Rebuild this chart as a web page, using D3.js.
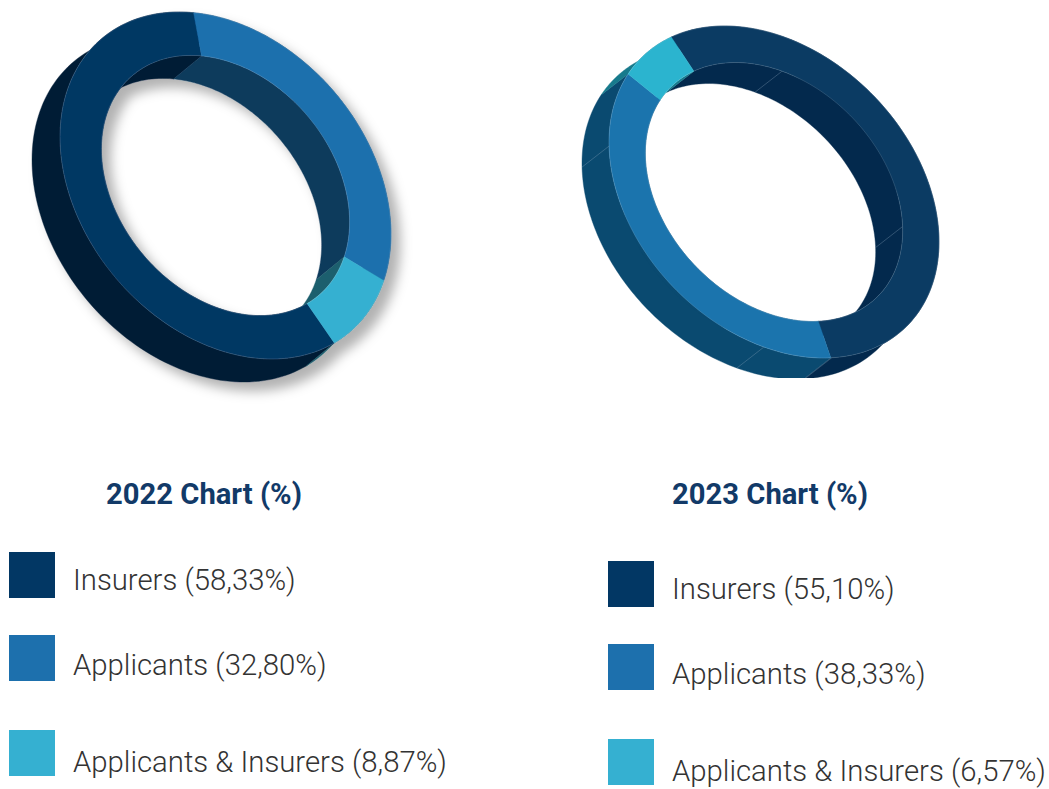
<!DOCTYPE html>
<html><head><meta charset="utf-8">
<style>html,body{margin:0;padding:0;background:#fff}svg{display:block}</style>
<script src="https://cdn.jsdelivr.net/npm/d3@7/dist/d3.min.js"></script>
</head><body><svg id="c" width="1049" height="789"></svg>
<script>
const categories = ["Insurers", "Applicants", "Applicants & Insurers"];
const values2022 = [58.33, 32.80, 8.87];
const values2023 = [55.10, 38.33, 6.57];
const labels2022 = ["58,33%", "32,80%", "8,87%"];
const labels2023 = ["55,10%", "38,33%", "6,57%"];
const legendColors = ["#023764", "#1d70ad", "#35b0d1"];

const svg = d3.select("#c");
const defs = svg.append("defs");
const shadow = defs.append("filter").attr("id","ds")
  .attr("x","-20%").attr("y","-20%").attr("width","150%").attr("height","150%");
shadow.append("feDropShadow").attr("dx",9).attr("dy",9).attr("stdDeviation",6)
  .attr("flood-color","#000").attr("flood-opacity",0.3);
defs.append("clipPath").attr("id","clip23").append("rect")
  .attr("x",540).attr("y",0).attr("width",500).attr("height",378);

const rad = d => d * Math.PI / 180;
const line = d3.line().curve(d3.curveLinear);

function ring(cfg){
  const g = svg.append("g");
  if (cfg.filter) g.attr("filter", cfg.filter);
  if (cfg.clip) g.attr("clip-path", cfg.clip);
  const s = Math.sqrt(1 - cfg.rho*cfg.rho);
  const proj = (a, k, off) => [
    cfg.cx + (off ? cfg.dx : 0) + k*cfg.xr*Math.cos(a),
    cfg.cy + (off ? cfg.dy : 0) + k*cfg.yr*(cfg.rho*Math.cos(a) + s*Math.sin(a))
  ];
  const pie = d3.pie().sort(null)
    .startAngle(rad(cfg.start)).endAngle(rad(cfg.start)+2*Math.PI);
  const slices = pie(cfg.values);
  const sample = (a0,a1) => d3.range(0, 121).map(i => a0 + (a1-a0)*i/120);
  const wall = (d,k) => {
    const t = sample(d.startAngle, d.endAngle);
    return line([...t.map(a=>proj(a,k,false)), ...t.reverse().map(a=>proj(a,k,true))]) + "Z";
  };
  const face = d => {
    const t = sample(d.startAngle, d.endAngle);
    return line([...t.map(a=>proj(a,1,false)), ...t.reverse().map(a=>proj(a,cfg.inner,false))]) + "Z";
  };
  g.selectAll(".o").data(slices).enter().append("path")
    .attr("d", d=>wall(d,1)).attr("fill",(d,i)=>cfg.outerWall[i]).attr("stroke",(d,i)=>cfg.outerWall[i]).attr("stroke-width",0.4);
  g.selectAll(".i").data(slices).enter().append("path")
    .attr("d", d=>wall(d,cfg.inner)).attr("fill",(d,i)=>cfg.innerWall[i]).attr("stroke",(d,i)=>cfg.innerWall[i]).attr("stroke-width",0.4);
  // thin seams where the wall panels were split
  cfg.seams.forEach(([a,k]) => {
    g.append("path").attr("d", line([proj(rad(a),k,false), proj(rad(a),k,true)]))
      .attr("stroke","#8fa9bd").attr("stroke-opacity",0.55).attr("stroke-width",0.6).attr("fill","none");
  });
  g.selectAll(".f").data(slices).enter().append("path")
    .attr("d", face).attr("fill",(d,i)=>cfg.face[i]).attr("stroke",(d,i)=>cfg.face[i]).attr("stroke-width",0.4);
  [1,cfg.inner].forEach(k=>{
    const t = d3.range(0,361,2).map(rad);
    g.append("path").attr("d", line(t.map(a=>proj(a,k,false)))+"Z")
      .attr("fill","none").attr("stroke","#fff").attr("stroke-opacity",0.22).attr("stroke-width",0.6);
  });
}

ring({values:values2022, cx:225.5, cy:185.5, xr:165.5, yr:173.5, rho:0.28, inner:0.75, dx:-28, dy:23, start:48.9,
  face:["#023764","#1d70ad","#35b0d1"],
  outerWall:["#001d36","#0f3a5c","#1f5f6e"],
  innerWall:["#001d36","#103a5c","#1f5f6e"],
  seams:[], filter:"url(#ds)"});

ring({values:values2023, cx:774, cy:192, xr:165, yr:166, rho:0.3, inner:0.78, dx:-27, dy:21, start:-128.5,
  face:["#0b3b63","#1b74ad","#2bb4cf"],
  outerWall:["#03294d","#0a4a70","#177a8c"],
  innerWall:["#03294d","#0a4a70","#177a8c"],
  seams:[[-86.4,0.78],[-2,0.78],[178.6,1],[93.5,1],[69.5,1]], clip:"url(#clip23)"});

function legend(title, titleX, squareX, textX, rows, baselines, labels){
  svg.append("text").attr("x",titleX).attr("y",504).attr("text-anchor","middle")
    .attr("font-family","Roboto").attr("font-weight",700).attr("font-size",29.2)
    .attr("fill","#123a68").text(title);
  categories.forEach((c,i)=>{
    svg.append("rect").attr("x",squareX).attr("y",rows[i]).attr("width",46).attr("height",46)
      .attr("fill",legendColors[i]);
    svg.append("text").attr("x",textX).attr("y",baselines[i])
      .attr("font-family","Roboto").attr("font-weight",300).attr("font-size",29.3)
      .attr("fill","#333").text(`${c} (${labels[i]})`);
  });
}
legend("2022 Chart (%)",204,9,73,[552,635,730],[590,675,772],labels2022);
legend("2023 Chart (%)",770,608,672,[561,644,739],[599,684,781],labels2023);
</script></body></html>
